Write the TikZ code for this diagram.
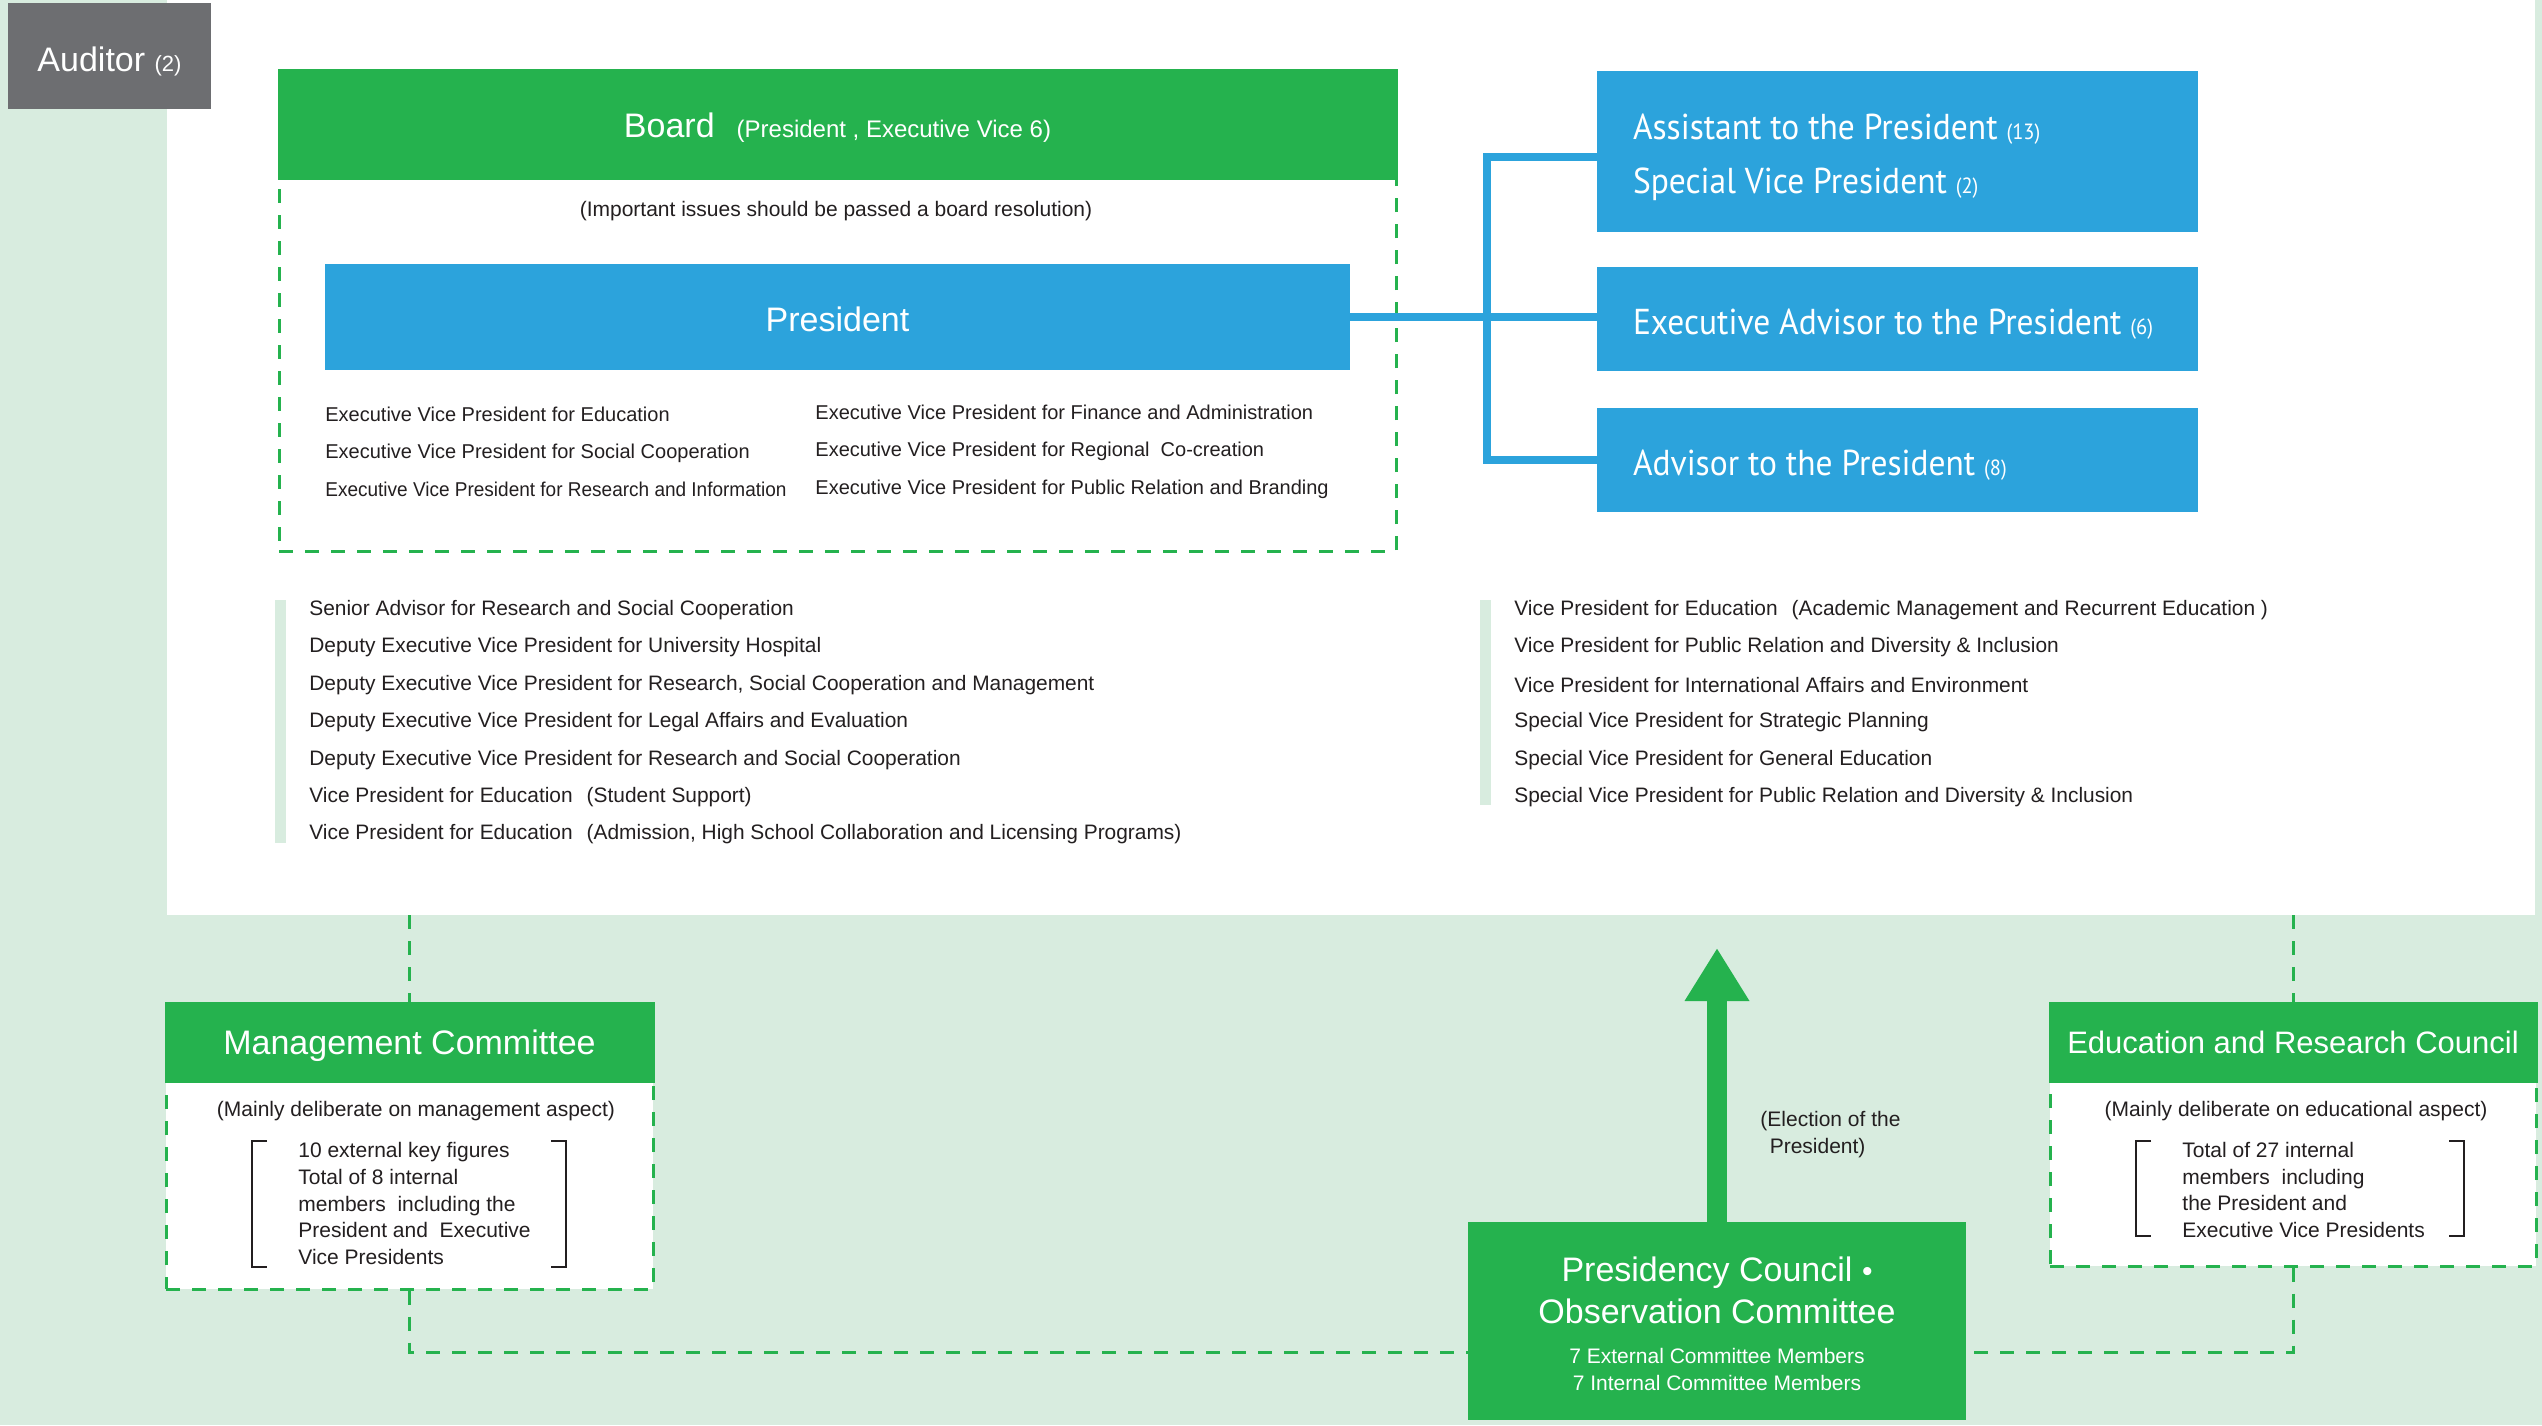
\documentclass[tikz,border=0pt]{standalone}
\usepackage{fontspec}
\setmainfont{Liberation Sans}
\newfontfamily\sidefont{PT Sans}[FakeStretch=0.93]
\usepackage{tikz}
\usetikzlibrary{arrows.meta}

\definecolor{orggreen}{RGB}{37,178,78}
\definecolor{orgblue}{RGB}{44,163,220}
\definecolor{palegreen}{RGB}{216,236,223}
\definecolor{auditgray}{RGB}{109,110,113}
\definecolor{inkgray}{RGB}{35,31,32}

\newcommand{\smallcount}[1]{{\fontsize{11}{13}\selectfont#1}}

\tikzset{
  greenhdr/.style={fill=orggreen, draw=orggreen, line width=1.5pt, text=white, inner sep=0pt, text depth=0pt, font=\fontsize{17}{20}\selectfont},
  bluebox/.style={fill=orgblue, text=white, inner sep=0pt, text depth=0pt, text height=14pt, font=\fontsize{17}{20}\selectfont},
  sidebox/.style={fill=orgblue, inner sep=0pt, minimum width=300.5pt, minimum height=52pt},
  sidetxt/.style={text=white, inner sep=0pt, align=left, anchor=west, font=\sidefont\fontsize{18}{27}\selectfont},
  dashline/.style={draw=orggreen, line width=1.5pt, dash pattern=on 7pt off 6pt},
  dashbox/.style={dashline, fill=white, inner sep=0pt},
  bline/.style={draw=orgblue, line width=4pt, line join=miter},
  note/.style={text=inkgray, inner sep=0pt, font=\fontsize{10.5}{13.5}\selectfont},
  evp/.style={text=inkgray, inner sep=0pt, align=left, anchor=west, font=\fontsize{10}{18.75}\selectfont},
  listtxt/.style={text=inkgray, inner sep=0pt, anchor=west, font=\fontsize{10.45}{12}\selectfont},
  members/.style={text=inkgray, inner sep=0pt, align=left, anchor=west, font=\fontsize{10.5}{13.35}\selectfont},
  bracket/.style={draw=inkgray, line width=1pt},
  elect/.style={draw=orggreen, line width=10pt, -{Triangle[length=26.5pt, width=30.5pt]}},
}

\begin{document}
\begin{tikzpicture}[x=0.5pt, y=-0.5pt]
    \fill[palegreen] (0,0) rectangle (2542,1425);
    \useasboundingbox (0,0) rectangle (2542,1425);
    \node[fill=white, minimum width=1184pt, minimum height=457.5pt, inner sep=0pt] (panel) at (1351,457.5) {};
  % Auditor
    \node[fill=auditgray, text=white, minimum width=101.5pt, minimum height=53pt, text depth=0pt, text height=15pt, font=\fontsize{17}{20}\selectfont] (auditor) at (109.5,56) {Auditor \smallcount{(2)}};
  % Board and President
    \node[dashbox, minimum width=558.5pt, minimum height=240.5pt] (boardframe) at (837.5,310.5) {};
    \node[greenhdr, minimum width=558.5pt, minimum height=54pt] (board) at (837.5,124.75) {Board\hspace{11pt}{\fontsize{12}{14}\selectfont(President , Executive Vice 6)}};
    \node[note] (issues) at (836,211) {(Important issues should be passed a board resolution)};
    \node[bluebox, minimum width=512.5pt, minimum height=53pt] (pres) at (837.5,317) {President};
    \node[evp] (evpleft) at (325,451.5) {Executive Vice President for Education\\Executive Vice President for Social Cooperation\\\scalebox{0.95}[1]{Executive Vice President for Research and Information}};
    \node[evp] (evpright) at (815,451.5) {Executive Vice President for Finance and Administration\\Executive Vice President for Regional\ \ Co-creation\\Executive Vice President for Public Relation and Branding};
  % Staff of the President
    \node[sidebox, minimum height=80.5pt] (asst) at (1897.5,151.5) {};
    \node[sidebox] (exadv) at (1897.5,319) {};
    \node[sidebox] (adv) at (1897.5,460) {};
    \node[sidetxt] (assttxt) at ([shift={(18pt,-3pt)}]asst.west) {Assistant to the President \smallcount{(13)}\\Special Vice President \smallcount{(2)}};
    \node[sidetxt] (exadvtxt) at ([shift={(18pt,-2.5pt)}]exadv.west) {Executive Advisor to the President \smallcount{(6)}};
    \node[sidetxt] (advtxt) at ([shift={(18pt,-2.5pt)}]adv.west) {Advisor to the President \smallcount{(8)}};
    \coordinate (spine) at (1487,317);
    \draw[bline] (pres.east) -- (pres.east -| exadv.west);
    \draw[bline] ([yshift=-2.5pt]asst.west) -| (spine) |- (adv.west);
  % Deputies and vice presidents
    \fill[palegreen] (275,600) rectangle (286,843);
    \foreach \t [count=\i from 0] in {Senior Advisor for Research and Social Cooperation,
        Deputy Executive Vice President for University Hospital,
        {Deputy Executive Vice President for Research, Social Cooperation and Management},
        Deputy Executive Vice President for Legal Affairs and Evaluation,
        Deputy Executive Vice President for Research and Social Cooperation,
        Vice President for Education\hspace{7pt}(Student Support),
        {Vice President for Education\hspace{7pt}(Admission, High School Collaboration and Licensing Programs)}}
      \node[listtxt] (dep\i) at (309,610+37.4*\i) {\t};
    \fill[palegreen] (1480,600) rectangle (1491,805);
    \foreach \t [count=\i from 0] in {{Vice President for Education\hspace{7pt}(Academic Management and Recurrent Education )},
        Vice President for Public Relation and Diversity \& Inclusion,
        Vice President for International Affairs and Environment,
        Special Vice President for Strategic Planning,
        Special Vice President for General Education,
        Special Vice President for Public Relation and Diversity \& Inclusion}
      \node[listtxt] (vp\i) at (1514,610+37.4*\i) {\t};
  % Management Committee
    \node[dashbox, minimum width=243.5pt, minimum height=143pt] (mgframe) at (409.5,1146) {};
    \node[greenhdr, minimum width=243.5pt, minimum height=39pt] (mgmt) at (409.5,1042) {Management Committee};
    \node[note] (mgnote) at (416,1111) {(Mainly deliberate on management aspect)};
    \draw[bracket] (267,1141) -- (252,1141) -- (252,1267) -- (267,1267);
    \draw[bracket] (551,1141) -- (566,1141) -- (566,1267) -- (551,1267);
    \node[members] (mgmembers) at (298,1203.5) {10 external key figures\\Total of 8 internal\\members\ \ including the\\President and\ \ Executive\\Vice Presidents};
  % Education and Research Council
    \node[dashbox, minimum width=243pt, minimum height=131.5pt] (edframe) at (2293,1134.5) {};
    \node[greenhdr, minimum width=243pt, minimum height=39pt, font=\fontsize{15.5}{18}\selectfont] (educ) at (2293,1042) {Education and Research Council};
    \node[note] (ednote) at (2296,1111) {(Mainly deliberate on educational aspect)};
    \draw[bracket] (2151,1141) -- (2136,1141) -- (2136,1236) -- (2151,1236);
    \draw[bracket] (2449,1141) -- (2464,1141) -- (2464,1236) -- (2449,1236);
    \node[members] (edmembers) at (2182,1190) {Total of 27 internal\\members\ \ including\\the President and\\Executive Vice Presidents};
  % Presidency Council
    \node[fill=orggreen, minimum width=249pt, minimum height=99pt, inner sep=0pt] (pc) at (1717,1321) {};
    \node[text=white, align=center, inner sep=0pt, font=\fontsize{17}{21}\selectfont] (pctitle) at (1717,1290) {Presidency Council {\fontsize{15}{17}\selectfont\textbullet}\\Observation Committee};
    \node[text=white, align=center, inner sep=0pt, font=\fontsize{10.5}{13.5}\selectfont] (pcmembers) at (1717,1369.5) {7 External Committee Members\\7 Internal Committee Members};
    \coordinate (electtip) at (1717,948);
    \draw[elect] (pc.north) -- (electtip);
    \node[note, anchor=west, align=left] (election) at (1760,1135) {(Election of the\\\ \,President)};
  % Dashed links
    \draw[dashline] (panel.south -| mgframe.north) -- (mgframe.north);
    \draw[dashline] (panel.south -| edframe.north) -- (edframe.north);
    \draw[dashline] (mgframe.south) |- (pc.west |- 0,1352);
    \draw[dashline] (edframe.south) |- (pc.east |- 0,1352);
\end{tikzpicture}
\end{document}
